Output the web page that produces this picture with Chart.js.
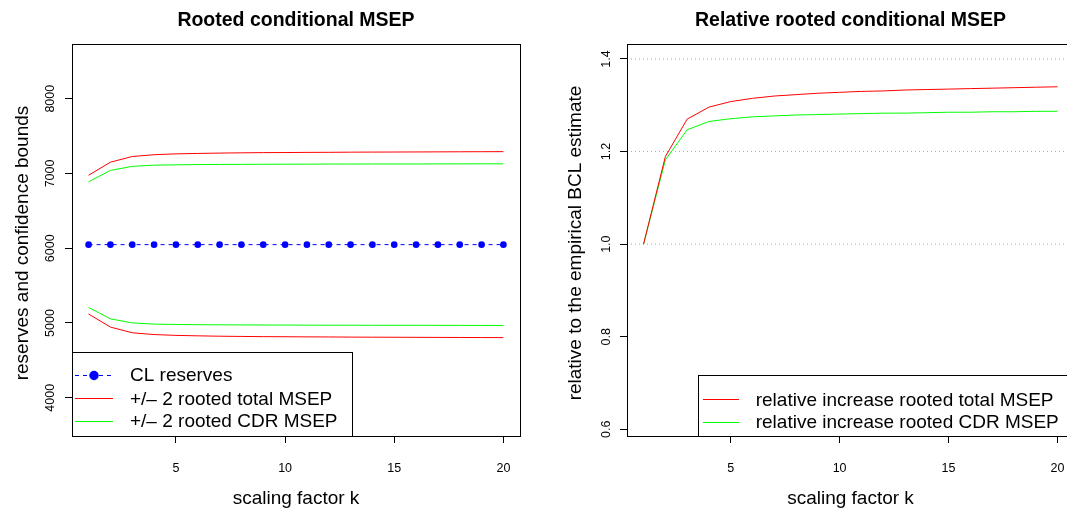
<!DOCTYPE html>
<html lang="en">
<head>
  <meta charset="UTF-8" />
  <title>Rooted conditional MSEP</title>
  <script src="https://cdn.jsdelivr.net/npm/chart.js"></script>
  <style>
    html, body { margin: 0; padding: 0; background: #fff; overflow: hidden; }
    #wrap { position: relative; width: 1067px; height: 515px; overflow: hidden; }
    #leftChart { position: absolute; left: 0; top: 0; }
    #rightChart { position: absolute; left: 533px; top: 0; }
  </style>
</head>
<body>
  <div id="wrap">
    <canvas id="leftChart" width="533" height="515"></canvas>
    <canvas id="rightChart" width="560" height="515"></canvas>
  </div>

  <script>
    const FONT = '"Liberation Sans", Arial, Helvetica, sans-serif';

    // scaling factor k
    const kValues = [1, 2, 3, 4, 5, 6, 7, 8, 9, 10, 11, 12, 13, 14, 15, 16, 17, 18, 19, 20];

    // left panel: reserves and confidence bounds
    const clReserves = [6048, 6048, 6048, 6048, 6048, 6048, 6048, 6048, 6048, 6048,
                        6048, 6048, 6048, 6048, 6048, 6048, 6048, 6048, 6048, 6048];
    const upperTotal = [6976, 7151, 7227, 7251, 7262, 7268, 7273, 7276, 7279, 7280,
                        7282, 7283, 7285, 7286, 7287, 7288, 7289, 7290, 7291, 7292];
    const lowerTotal = [5120, 4945, 4869, 4845, 4834, 4828, 4823, 4820, 4817, 4816,
                        4814, 4813, 4811, 4810, 4809, 4808, 4807, 4806, 4805, 4804];
    const upperCdr   = [6888, 7041, 7095, 7111, 7116, 7119, 7121, 7122, 7123, 7124,
                        7125, 7126, 7126, 7127, 7127, 7127, 7128, 7128, 7129, 7129];
    const lowerCdr   = [5208, 5055, 5001, 4985, 4980, 4977, 4975, 4974, 4973, 4972,
                        4971, 4970, 4970, 4969, 4969, 4969, 4968, 4968, 4967, 4967];

    // right panel: relative increase
    const relTotal = [1.000, 1.189, 1.270, 1.296, 1.308, 1.315, 1.320, 1.323, 1.326, 1.328,
                      1.330, 1.331, 1.333, 1.334, 1.335, 1.336, 1.337, 1.338, 1.339, 1.340];
    const relCdr   = [1.000, 1.182, 1.247, 1.265, 1.271, 1.275, 1.277, 1.279, 1.280, 1.281,
                      1.282, 1.283, 1.283, 1.284, 1.285, 1.285, 1.286, 1.286, 1.287, 1.287];
    const refLines = [1.0, 1.2, 1.4];

    // axes
    const xRange = [0.24, 20.76];
    const xTicks = [5, 10, 15, 20];
    const leftYRange = [3488, 8732];
    const leftYTicks = [4000, 5000, 6000, 7000, 8000];
    const rightYRange = [0.5855, 1.4324];
    const rightYTicks = [0.6, 0.8, 1.0, 1.2, 1.4];

    const toPoints = ys => ys.map((y, i) => ({ x: kValues[i], y }));

    // box, titles, axis labels and legend drawn on top of the chart
    const panelDeco = {
      id: 'panelDeco',
      afterDraw(chart, args, opts) {
        const ctx = chart.ctx;
        const a = chart.chartArea;
        ctx.save();
        ctx.strokeStyle = '#000';
        ctx.lineWidth = 1;
        ctx.setLineDash([]);
        ctx.strokeRect(Math.round(a.left) + 0.5, Math.round(a.top) + 0.5,
                       Math.round(a.right - a.left), Math.round(a.bottom - a.top));

        const cx = (a.left + a.right) / 2;
        ctx.fillStyle = '#000';
        ctx.textAlign = 'center';
        ctx.textBaseline = 'alphabetic';
        ctx.font = 'bold 19.5px ' + FONT;
        ctx.fillText(opts.title, cx, 26);
        ctx.font = '19px ' + FONT;
        ctx.fillText(opts.xLabel, cx, 504);
        ctx.save();
        ctx.translate(opts.yLabelX, (a.top + a.bottom) / 2 + 3);
        ctx.rotate(-Math.PI / 2);
        ctx.fillText(opts.yLabel, 0, 0);
        ctx.restore();

        // legend
        const L = opts.legend;
        const bottom = Math.round(a.bottom) + 0.5;
        ctx.fillStyle = '#fff';
        ctx.fillRect(L.x, L.y, L.w, bottom - L.y);
        ctx.strokeStyle = '#000';
        ctx.strokeRect(L.x + 0.5, L.y + 0.5, L.w, bottom - L.y - 0.5);
        const items = chart.data.datasets.filter(ds => ds.inLegend);
        ctx.font = '19px ' + FONT;
        ctx.textAlign = 'left';
        ctx.textBaseline = 'middle';
        items.forEach((ds, i) => {
          const y = L.rows[i];
          ctx.strokeStyle = ds.borderColor;
          ctx.lineWidth = 1;
          ctx.setLineDash(ds.borderDash || []);
          ctx.beginPath();
          ctx.moveTo(L.lineX[0], Math.round(y) + 0.5);
          ctx.lineTo(L.lineX[1], Math.round(y) + 0.5);
          ctx.stroke();
          ctx.setLineDash([]);
          if (ds.pointRadius > 0) {
            ctx.fillStyle = ds.pointBackgroundColor;
            ctx.beginPath();
            ctx.arc((L.lineX[0] + L.lineX[1]) / 2, y + 0.5, 4.7, 0, Math.PI * 2);
            ctx.fill();
          }
          ctx.fillStyle = '#000';
          ctx.fillText(ds.label, L.textX, y + 1);
        });
        ctx.restore();
      }
    };

    function makeScales(yRange, yTicks, yFmt, yPad, yWidth) {
      return {
        x: {
          type: 'linear',
          min: xRange[0],
          max: xRange[1],
          afterBuildTicks: s => { s.ticks = xTicks.map(v => ({ value: v })); },
          afterFit: s => { s.height = 79; },
          grid: { drawOnChartArea: false, drawTicks: true, tickLength: 7, color: '#000', lineWidth: 1 },
          border: { display: false },
          ticks: {
            font: { family: FONT, size: 12.5 }, color: '#000', padding: 18,
            maxRotation: 0, autoSkip: false, callback: v => String(v)
          }
        },
        y: {
          type: 'linear',
          min: yRange[0],
          max: yRange[1],
          afterBuildTicks: s => { s.ticks = yTicks.map(v => ({ value: v })); },
          afterFit: s => { s.width = yWidth; },
          grid: { drawOnChartArea: false, drawTicks: true, tickLength: 7, color: '#000', lineWidth: 1 },
          border: { display: false },
          ticks: {
            font: { family: FONT, size: 12.5 }, color: '#000', padding: yPad,
            minRotation: 90, maxRotation: 90, crossAlign: 'center',
            autoSkip: false, callback: yFmt
          }
        }
      };
    }

    const common = {
      responsive: false,
      animation: false,
      events: [],
      plugins: { legend: { display: false }, tooltip: { enabled: false } },
      elements: { line: { tension: 0, borderWidth: 1 }, point: { radius: 0 } }
    };

    new Chart(document.getElementById('leftChart'), {
      type: 'line',
      data: {
        datasets: [
          {
            label: 'CL reserves', inLegend: true, data: toPoints(clReserves),
            borderColor: '#0000ff', borderDash: [4, 4], borderWidth: 1,
            pointRadius: 3.3, pointBorderWidth: 0, pointBackgroundColor: '#0000ff'
          },
          { label: '+/\u2013 2 rooted total MSEP', inLegend: true, data: toPoints(upperTotal), borderColor: '#ff0000', pointRadius: 0 },
          { label: 'lower total', data: toPoints(lowerTotal), borderColor: '#ff0000', pointRadius: 0 },
          { label: '+/\u2013 2 rooted CDR MSEP', inLegend: true, data: toPoints(upperCdr), borderColor: '#00ff00', pointRadius: 0 },
          { label: 'lower CDR', data: toPoints(lowerCdr), borderColor: '#00ff00', pointRadius: 0 }
        ]
      },
      options: {
        ...common,
        layout: { padding: { left: 0, top: 44, right: 13, bottom: 0 } },
        scales: makeScales(leftYRange, leftYTicks, v => String(v), 1, 72),
        plugins: {
          ...common.plugins,
          panelDeco: {
            title: 'Rooted conditional MSEP',
            xLabel: 'scaling factor k',
            yLabel: 'reserves and confidence bounds',
            yLabelX: 27.5,
            legend: { x: 72, y: 352, w: 280, rows: [375, 398.3, 421], lineX: [75, 113], textX: 130 }
          }
        }
      },
      plugins: [panelDeco]
    });

    new Chart(document.getElementById('rightChart'), {
      type: 'line',
      data: {
        datasets: [
          { label: 'relative increase rooted total MSEP', inLegend: true, data: toPoints(relTotal), borderColor: '#ff0000', pointRadius: 0 },
          { label: 'relative increase rooted CDR MSEP', inLegend: true, data: toPoints(relCdr), borderColor: '#00ff00', pointRadius: 0 },
          ...refLines.map(v => ({
            label: 'ref ' + v, data: [{ x: xRange[0], y: v }, { x: xRange[1], y: v }],
            borderColor: '#a8a8a8', borderDash: [1, 3], borderWidth: 1, pointRadius: 0
          }))
        ]
      },
      options: {
        ...common,
        layout: { padding: { left: 0, top: 44, right: 19, bottom: 0 } },
        scales: makeScales(rightYRange, rightYTicks, v => Number(v).toFixed(1), 4.5, 94),
        plugins: {
          ...common.plugins,
          panelDeco: {
            title: 'Relative rooted conditional MSEP',
            xLabel: 'scaling factor k',
            yLabel: 'relative to the empirical BCL estimate',
            yLabelX: 47.5,
            legend: { x: 165, y: 375, w: 420, rows: [399.3, 421.7], lineX: [170, 206], textX: 222.7 }
          }
        }
      },
      plugins: [panelDeco]
    });
  </script>
</body>
</html>
